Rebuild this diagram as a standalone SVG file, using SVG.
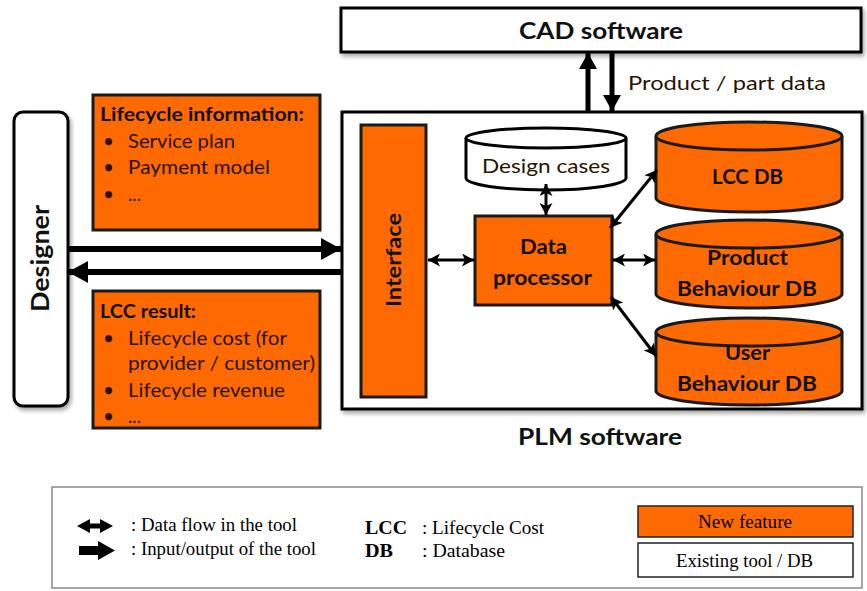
<svg xmlns="http://www.w3.org/2000/svg" width="867" height="591" viewBox="0 0 867 591">
<defs>
<filter id="sh" x="-10%" y="-10%" width="120%" height="130%">
<feDropShadow dx="2" dy="3" stdDeviation="2" flood-color="#000" flood-opacity="0.35"/>
</filter>
<marker id="big" markerUnits="userSpaceOnUse" markerWidth="22" markerHeight="22" refX="20" refY="11" orient="auto">
<path d="M0,0 L20,11 L0,22 Z" fill="#000"/>
</marker>
<marker id="sm" markerUnits="userSpaceOnUse" markerWidth="13" markerHeight="13" refX="12" refY="6.5" orient="auto-start-reverse">
<path d="M0,0 L12,6.5 L0,13 L3,6.5 Z" fill="#000"/>
</marker>
<marker id="vert" markerUnits="userSpaceOnUse" markerWidth="18" markerHeight="18" refX="16" refY="9" orient="auto">
<path d="M0,0 L16,9 L0,18 Z" fill="#000"/>
</marker>
</defs>
<style>
.o{fill:#ff6a00;stroke:#1a1a1a;stroke-width:3}
.w{fill:#fff;stroke:#000;stroke-width:3}
.b{font-family:Lato,"Open Sans",sans-serif;font-weight:bold;fill:#111}
.n{font-family:Lato,"Open Sans",sans-serif;fill:#2a1200}
.t{font-family:"Liberation Serif","Times New Roman",serif;font-size:18px;fill:#000}
.c{stroke:#000;fill:none}
</style>
<rect width="867" height="591" fill="#fff"/>

<g id="cad">
<rect x="341" y="8" width="520" height="44" class="w" filter="url(#sh)"/>
<text x="519" y="39" class="b" font-size="23" textLength="164" lengthAdjust="spacingAndGlyphs">CAD software</text>
</g>

<g id="plm">
<rect x="342" y="112" width="520" height="297" class="w" filter="url(#sh)"/>
<text x="518" y="445" class="b" font-size="23" textLength="164" lengthAdjust="spacingAndGlyphs">PLM software</text>
</g>

<g id="designer">
<rect x="14" y="112" width="54" height="294" rx="9" class="w" filter="url(#sh)"/>
<text transform="translate(49,312) rotate(-90)" class="b" font-size="24" textLength="107" lengthAdjust="spacingAndGlyphs">Designer</text>
</g>

<g id="lifecycle-info">
<rect x="93" y="95" width="227" height="135" class="o" stroke-width="1.5"/>
<text x="100" y="121" class="b" font-size="18" textLength="204" lengthAdjust="spacingAndGlyphs">Lifecycle information:</text>
<text class="n" font-size="19"><tspan x="103" y="148">•</tspan><tspan x="103" y="174">•</tspan><tspan x="103" y="201">•</tspan></text>
<text x="128" y="148" class="n" font-size="19" textLength="107" lengthAdjust="spacingAndGlyphs">Service plan</text>
<text x="128" y="174" class="n" font-size="19" textLength="142" lengthAdjust="spacingAndGlyphs">Payment model</text>
<text x="128" y="201" class="n" font-size="19" textLength="13" lengthAdjust="spacingAndGlyphs">...</text>
</g>

<g id="lcc-result">
<rect x="93" y="291" width="227" height="137" class="o" stroke-width="1.5"/>
<text x="100" y="318" class="b" font-size="18" textLength="96" lengthAdjust="spacingAndGlyphs">LCC result:</text>
<text class="n" font-size="19"><tspan x="103" y="345">•</tspan><tspan x="103" y="397">•</tspan><tspan x="103" y="423">•</tspan></text>
<text x="128" y="345" class="n" font-size="19" textLength="159" lengthAdjust="spacingAndGlyphs">Lifecycle cost (for</text>
<text x="128" y="370" class="n" font-size="19" textLength="187" lengthAdjust="spacingAndGlyphs">provider / customer)</text>
<text x="128" y="397" class="n" font-size="19" textLength="157" lengthAdjust="spacingAndGlyphs">Lifecycle revenue</text>
<text x="128" y="423" class="n" font-size="19" textLength="13" lengthAdjust="spacingAndGlyphs">...</text>
</g>

<g id="interface">
<rect x="361" y="125" width="65" height="272" class="o"/>
<text transform="translate(401,307) rotate(-90)" class="b" font-size="21" textLength="94" lengthAdjust="spacingAndGlyphs">Interface</text>
</g>

<g id="design-cases">
<path d="M466,138 L466,178 A80,12 0 0 0 626,178 L626,138" class="w" stroke-width="2.5"/>
<ellipse cx="546" cy="138" rx="80" ry="10" class="w" stroke-width="2.5"/>
<text x="482" y="173" class="n" fill="#222" font-size="20" textLength="128" lengthAdjust="spacingAndGlyphs">Design cases</text>
</g>

<g id="data-processor">
<rect x="475" y="216" width="137" height="89" class="o"/>
<text x="520" y="254" class="b" font-size="21" textLength="47" lengthAdjust="spacingAndGlyphs">Data</text>
<text x="493" y="285" class="b" font-size="21" textLength="99" lengthAdjust="spacingAndGlyphs">processor</text>
</g>

<g id="lcc-db">
<path d="M656,136 L656,198 A93,14 0 0 0 842,198 L842,136" class="o"/>
<ellipse cx="749" cy="136" rx="93" ry="14" class="o"/>
<text x="712" y="184" class="b" font-size="21" textLength="71" lengthAdjust="spacingAndGlyphs">LCC DB</text>
</g>

<g id="product-db">
<path d="M656,234 L656,294 A93,14 0 0 0 842,294 L842,234" class="o"/>
<ellipse cx="749" cy="234" rx="93" ry="14" class="o"/>
<text x="707" y="265" class="b" font-size="21" textLength="81" lengthAdjust="spacingAndGlyphs">Product</text>
<text x="677" y="296" class="b" font-size="21" textLength="140" lengthAdjust="spacingAndGlyphs">Behaviour DB</text>
</g>

<g id="user-db">
<path d="M656,332 L656,391 A93,14 0 0 0 842,391 L842,332" class="o"/>
<ellipse cx="749" cy="332" rx="93" ry="14" class="o"/>
<text x="725" y="360" class="b" font-size="21" textLength="45" lengthAdjust="spacingAndGlyphs">User</text>
<text x="677" y="391" class="b" font-size="21" textLength="140" lengthAdjust="spacingAndGlyphs">Behaviour DB</text>
</g>

<g id="connectors">
<line x1="68" y1="249" x2="341" y2="249" class="c" stroke-width="6" marker-end="url(#big)"/>
<line x1="341" y1="272" x2="68" y2="272" class="c" stroke-width="6" marker-end="url(#big)"/>
<line x1="588" y1="111" x2="588" y2="53" class="c" stroke-width="5" marker-end="url(#vert)"/>
<line x1="612" y1="53" x2="612" y2="111" class="c" stroke-width="5" marker-end="url(#vert)"/>
<line x1="428" y1="260" x2="474" y2="260" class="c" stroke-width="3" marker-start="url(#sm)" marker-end="url(#sm)"/>
<line x1="546" y1="184" x2="546" y2="215" class="c" stroke-width="3" marker-start="url(#sm)" marker-end="url(#sm)"/>
<line x1="613" y1="260" x2="655" y2="260" class="c" stroke-width="3" marker-start="url(#sm)" marker-end="url(#sm)"/>
<line x1="610" y1="228" x2="657" y2="170" class="c" stroke-width="3" marker-start="url(#sm)" marker-end="url(#sm)"/>
<line x1="611" y1="297" x2="656" y2="356" class="c" stroke-width="3" marker-start="url(#sm)" marker-end="url(#sm)"/>
<text x="628" y="90" class="n" fill="#222" font-size="20" textLength="198" lengthAdjust="spacingAndGlyphs">Product / part data</text>
</g>

<g id="legend">
<rect x="52" y="487" width="810" height="101" fill="#fff" stroke="#888" stroke-width="1.5"/>
<path d="M77,526 L90,519 L90,523.5 L100,523.5 L100,519 L113,526 L100,533 L100,528.5 L90,528.5 L90,533 Z" fill="#000"/>
<path d="M79,546 L98,546 L98,541 L115,550.5 L98,560 L98,555 L79,555 Z" fill="#000"/>
<text x="131" y="531" class="t" textLength="166" lengthAdjust="spacingAndGlyphs">: Data flow in the tool</text>
<text x="131" y="555" class="t" textLength="185" lengthAdjust="spacingAndGlyphs">: Input/output  of the tool</text>
<text x="365" y="534" class="t" font-weight="bold" font-size="19" textLength="42" lengthAdjust="spacingAndGlyphs">LCC</text>
<text x="422" y="534" class="t" textLength="122" lengthAdjust="spacingAndGlyphs">: Lifecycle Cost</text>
<text x="365" y="557" class="t" font-weight="bold" font-size="19" textLength="28" lengthAdjust="spacingAndGlyphs">DB</text>
<text x="422" y="557" class="t" textLength="83" lengthAdjust="spacingAndGlyphs">: Database</text>
<rect x="638" y="506" width="215" height="31" fill="#ff6a00" stroke="#222" stroke-width="1.5"/>
<text x="698" y="528" class="t" fill="#2a1200" textLength="94" lengthAdjust="spacingAndGlyphs">New feature</text>
<rect x="638" y="543" width="215" height="34" fill="#fff" stroke="#222" stroke-width="1.5"/>
<text x="676" y="567" class="t" textLength="137" lengthAdjust="spacingAndGlyphs">Existing  tool / DB</text>
</g>
</svg>
